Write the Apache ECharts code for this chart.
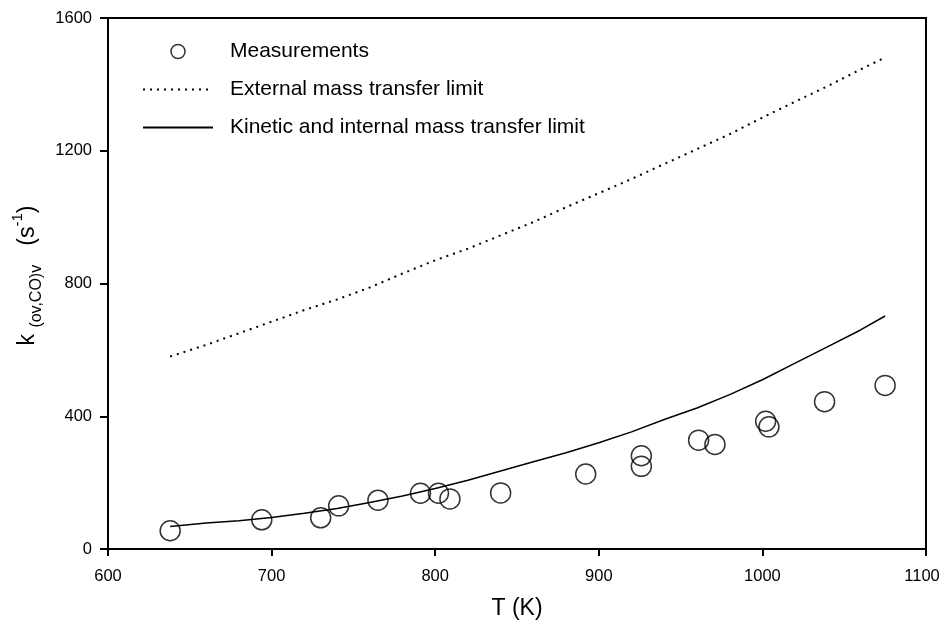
<!DOCTYPE html>
<html>
<head>
<meta charset="utf-8">
<script src="https://cdn.jsdelivr.net/npm/echarts@6/dist/echarts.min.js"></script>
<style>
  html,body{margin:0;padding:0;background:#fff;}
  #chart{width:941px;height:620px;}
</style>
</head>
<body>
<div id="chart"></div>
<script>
// measurements (T in K, k in 1/s)
var measT = [638, 694, 730, 741, 765, 791, 802, 809, 840, 892, 926, 926, 961, 971, 1002, 1004, 1038, 1075];
var measK = [55, 88, 94, 130, 147, 168, 168, 151, 169, 226, 281, 249, 328, 315, 385, 368, 444, 493];

// external mass transfer limit (dotted)
var extT = [638, 660, 680, 700, 720, 740, 760, 780, 800, 820, 840, 860, 880, 900, 920, 940, 960, 980, 1000, 1020, 1040, 1060, 1075];
var extK = [580, 615, 650, 685, 720, 752, 788, 830, 870, 905, 945, 985, 1030, 1072, 1115, 1160, 1205, 1250, 1300, 1348, 1395, 1445, 1481];

// kinetic and internal mass transfer limit (solid)
var kinT = [638, 660, 680, 700, 720, 740, 760, 780, 800, 820, 840, 860, 880, 900, 920, 940, 960, 980, 1000, 1020, 1040, 1060, 1075];
var kinK = [68, 78, 85, 95, 108, 122, 140, 160, 182, 207, 235, 263, 290, 320, 353, 390, 425, 465, 510, 560, 610, 660, 702];

function pairs(xs, ys) {
  return xs.map(function (x, i) { return [x, ys[i]]; });
}

var chart = echarts.init(document.getElementById('chart'));
var font = 'Liberation Sans, Arial, sans-serif';

chart.setOption({
  animation: false,
  color: ['#000', '#000', '#000'],
  textStyle: { fontFamily: font, color: '#000' },
  grid: {
    left: 108, right: 15, top: 18, bottom: 71,
    outerBoundsMode: 'none',
    show: true, borderColor: '#000', borderWidth: 2
  },
  legend: {
    orient: 'vertical',
    left: 137, top: 36,
    itemWidth: 70, itemHeight: 14, itemGap: 17,
    textStyle: { fontSize: 21, color: '#000', fontFamily: font, padding: [0, 0, 0, 12] },
    data: [
      { name: 'Measurements', icon: 'circle', itemStyle: { color: '#fff', borderColor: '#000', borderWidth: 1.5 } },
      { name: 'External mass transfer limit', itemStyle: { opacity: 0 } },
      { name: 'Kinetic and internal mass transfer limit', itemStyle: { opacity: 0 } }
    ]
  },
  xAxis: {
    type: 'value', min: 600, max: 1100, interval: 100,
    name: 'T (K)', nameLocation: 'middle', nameGap: 48,
    nameTextStyle: { fontSize: 23, color: '#000' },
    axisLine: { lineStyle: { color: '#000', width: 2 } },
    axisTick: { show: true, length: 7, lineStyle: { color: '#000', width: 2 } },
    axisLabel: {
      fontSize: 16.5, color: '#000', margin: 19,
      // last label sits on the page edge, nudge it left a bit
      formatter: function (v) { return v === 1100 ? '{r|' + v + '}' : String(v); },
      rich: { r: { fontSize: 16.5, fontFamily: font, padding: [0, 8, 0, 0] } }
    },
    splitLine: { show: false }
  },
  yAxis: {
    type: 'value', min: 0, max: 1600, interval: 400,
    name: '{m|k }{s|(ov,CO)}{v|v}{m|   (s}{p|-1}{m|)}',
    nameLocation: 'middle', nameGap: 60,
    nameTextStyle: {
      fontSize: 23, color: '#000',
      padding: [0, 0, 0, 16],
      rich: {
        m: { fontSize: 23, lineHeight: 34, fontFamily: font },
        s: { fontSize: 16, lineHeight: 17, verticalAlign: 'bottom', fontFamily: font },
        v: { fontSize: 16, lineHeight: 14, verticalAlign: 'bottom', fontFamily: font },
        p: { fontSize: 15, lineHeight: 16, verticalAlign: 'top', fontFamily: font }
      }
    },
    axisLine: { show: true, lineStyle: { color: '#000', width: 2 } },
    axisTick: { show: true, length: 8, lineStyle: { color: '#000', width: 2 } },
    axisLabel: { fontSize: 16.5, color: '#000', margin: 16, formatter: function (v) { return String(v); } },
    splitLine: { show: false }
  },
  series: [
    {
      name: 'Measurements',
      type: 'scatter',
      symbol: 'circle',
      symbolSize: 20,
      itemStyle: { color: 'rgba(255,255,255,0)', borderColor: '#000', borderWidth: 1.5 },
      data: pairs(measT, measK),
      z: 3
    },
    {
      name: 'External mass transfer limit',
      type: 'line',
      symbol: 'none',
      itemStyle: { color: '#000' },
      lineStyle: { color: '#000', width: 2, type: [2, 5] },
      data: pairs(extT, extK)
    },
    {
      name: 'Kinetic and internal mass transfer limit',
      type: 'line',
      symbol: 'none',
      itemStyle: { color: '#000' },
      lineStyle: { color: '#000', width: 1.5 },
      data: pairs(kinT, kinK)
    }
  ]
});
</script>
</body>
</html>
